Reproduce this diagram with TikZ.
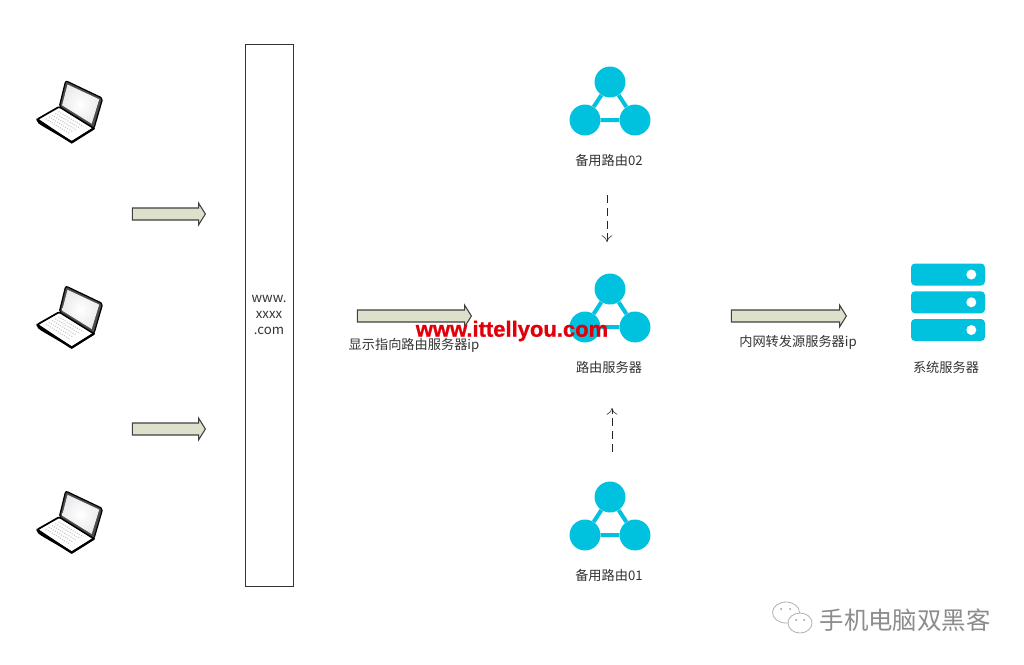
\documentclass[tikz,border=0pt]{standalone}
\usepackage{fontspec}
\setmainfont{Noto Sans CJK SC}
\newfontfamily\markfont[BoldFeatures={FakeBold=.9}]{Liberation Sans}
\usetikzlibrary{calc,shapes.arrows,arrows.meta}
\definecolor{iconblue}{HTML}{00C1DE}
\definecolor{arrowfill}{HTML}{DDE1CB}
\definecolor{labelgray}{HTML}{333333}
\newcommand{\labelsize}{\fontsize{9.9}{12}\selectfont}
\tikzset{
  blockarrow/.style={draw=black!75, fill=arrowfill, thick, single arrow, inner sep=0pt, text height=8.2pt, text depth=0pt,
    minimum width=16pt, single arrow head extend=3.6pt, single arrow tip angle=116, shape border rotate=0},
  netlabel/.style={text=labelgray, font=\labelsize, inner sep=0pt},
  dot/.style={circle, fill=iconblue, inner sep=0pt, minimum size=23.2pt},
  serverbar/.style={fill=iconblue, rounded corners=3pt},
  hopline/.style={draw=black!85, dashed, dash pattern=on 6pt off 3.6pt, -{To[length=5pt,width=8pt]}},
  laptop/.pic={
    % base, then lid, then screen
    \draw[fill=white, line width=1.3pt, line join=round, rounded corners=1pt] (-28.4,38.6) -- (-6.4,26) -- (28.3,47.6) -- (6,61.6) -- cycle;
    \foreach \s in {0,.2,.4,.6,.8}
    { \draw[black!22, densely dotted, line width=.8pt] ($(-20,38)!\s!(-4,29)$) -- ($(4,53)!\s!(21,44)$); }
    \draw[line width=1.7pt, line cap=round] (-28.4,38.6) .. controls (-28,43) and (-20,45) .. (6,61.6) -- (28.3,47.6);
    \draw[fill=black!70, line width=.9pt, line join=round, rounded corners=1.5pt] (0,0) -- (37,17.6) -- (28.3,47.6) -- (-6.4,26) -- cycle;
    \shade[inner color=white, outer color=blue!12!black!8] (1.8,3.8) -- (33.5,18.6) -- (26,43) -- (-3.6,24.6) -- cycle;
  }
}

\begin{document}
\begin{tikzpicture}[x=.75pt, y=-.75pt]
      \useasboundingbox (0,0) rectangle (1024,664);
      \fill[white] (0,0) rectangle (1024,664);
      %% laptops on the left, block arrows between the rows
      \foreach \j in {80.7,286,491}
      { \pic at (65.7,\j) {laptop}; }
      \node (arrow1) at (167,214) [blockarrow, minimum height=54.75pt] {};
      \node (arrow2) at (167,429) [blockarrow, minimum height=54.75pt] {};

      \node (domain) at (269,315) [draw=black!80, fill=white, minimum width=36pt, minimum height=406.5pt,
        inner sep=0pt, align=center, text=labelgray, font=\labelsize] {www.\\xxxx\\.com};
      \node (arrow3) at (412.5,316) [blockarrow, minimum height=85.5pt] {};
      \node (arrow4) at (787,316) [blockarrow, minimum height=86.25pt] {};
      \node (showlabel) at (414,345) [netlabel] {显示指向路由服务器ip};
      \node (fwdlabel) at (798,342) [netlabel] {内网转发源服务器ip};

      %% the three routers
      \foreach \n/\y/\t in {back2/82/备用路由02,main/289/路由服务器,back1/497/备用路由01}
      { \node (\n a) at (610,\y) [dot] {};
        \node (\n b) at (585,\y+38) [dot] {};
        \node (\n c) at (635,\y+38) [dot] {};
        \draw[iconblue, line width=3pt] (\n a) to (\n b) to (\n c) to (\n a);
        \node (\n label) at (609,\y+78.5) [netlabel] {\t};}
      \coordinate (hop1) at (607,195);
      \coordinate (hop2) at (607,242);
      \coordinate (hop3) at (612,452);
      \coordinate (hop4) at (612,408);
      \draw[hopline] (hop1) to (hop2);
      \draw[hopline] (hop3) to (hop4);

      %% server stack
      \foreach \j in {263.5,291.3,319}
      { \fill[serverbar] (911,\j) rectangle (985,\j+22);
        \fill[white] (971.3,\j+11) circle (5); }
      \node (serverlabel) at (946,367) [netlabel] {系统服务器};

      %% watermarks
      \node (site) at (512,331) [inner sep=0pt, text={rgb,255:red,225;green,0;blue,10}, font=\markfont\fontsize{16.5}{18}\selectfont\bfseries] {www.ittellyou.com};
      \draw[black!30, fill=white, semithick] (786,612.5) ellipse (13.5 and 10.5);
      \draw[black!30, fill=white, semithick] (800,623) ellipse (12 and 10);
      \foreach \i/\k in {781/609,790/609,796/620,804/620}
      { \fill[black!40] (\i,\k) circle (1); }
      \node (wechat) at (905,620) [inner sep=0pt, text=black!45, font=\fontsize{18.3}{20}\selectfont] {手机电脑双黑客};
\end{tikzpicture}
\end{document}
